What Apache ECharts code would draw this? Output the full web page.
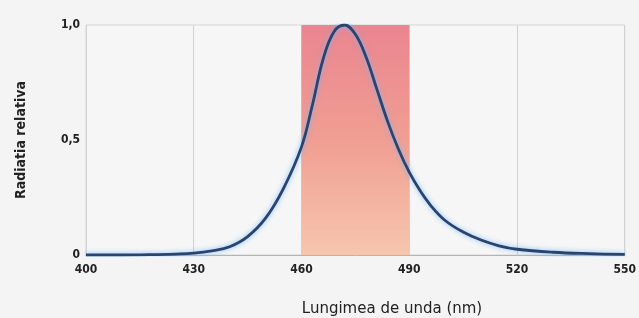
<!DOCTYPE html>
<html>
<head>
<meta charset="utf-8">
<script src="https://cdn.jsdelivr.net/npm/echarts@6/dist/echarts.min.js"></script>
<style>
    html, body { margin: 0; padding: 0; background: #f4f4f4; }
    #main { width: 639px; height: 318px; }
</style>
</head>
<body>
<div id="main"></div>
<script>
// wavelength (nm) and relative radiance
var wavelengths = [400, 410, 420, 425, 430, 435, 440, 445, 450, 455, 460, 463, 466, 469, 472,
    475, 478, 481, 484, 487, 490, 493, 496, 500, 505, 510, 515, 520, 530, 540, 550];
var radiance = [0, 0, 0.002, 0.004, 0.008, 0.018, 0.036, 0.08, 0.16, 0.29, 0.47, 0.65, 0.85, 0.97, 1.0,
    0.96, 0.86, 0.72, 0.58, 0.46, 0.36, 0.28, 0.215, 0.15, 0.10, 0.065, 0.04, 0.025, 0.012, 0.006, 0.003];
var bandRange = [460, 490];
var yTickLabels = { '0': '0', '0.5': '0,5', '1': '1,0' };

var seriesData = [];
for (var i = 0; i < wavelengths.length; i++) {
    seriesData.push([wavelengths[i], radiance[i]]);
}

var myChart = echarts.init(document.getElementById('main'));
var condensed = "'DejaVu Sans Condensed', 'Liberation Sans Narrow', sans-serif";

var option = {
    backgroundColor: '#f4f4f4',
    animation: false,
    title: [{
        text: 'Lungimea de unda (nm)',
        left: 387,
        top: 297,
        textAlign: 'center',
        textStyle: { fontFamily: "'DejaVu Sans', sans-serif", fontSize: 15, fontWeight: 'normal', color: '#222' }
    }],
    grid: {
        left: 86,
        right: 11,
        top: 25,
        bottom: 63,
        show: true,
        backgroundColor: '#f6f6f6',
        borderColor: '#d6d6d6',
        borderWidth: 1
    },
    xAxis: {
        type: 'value',
        min: 400,
        max: 550,
        interval: 30,
        axisLine: { lineStyle: { color: '#b4b4b4', width: 1 } },
        axisTick: { show: false },
        axisLabel: {
            color: '#222',
            fontFamily: condensed,
            fontWeight: 'bold',
            fontSize: 12,
            margin: 9
        },
        splitLine: { show: true, lineStyle: { color: '#d2d2d2', width: 1 } }
    },
    yAxis: {
        type: 'value',
        min: 0,
        max: 1,
        interval: 0.5,
        name: 'Radiatia relativa',
        nameLocation: 'middle',
        nameGap: 58,
        nameTextStyle: { color: '#222', fontFamily: condensed, fontWeight: 'bold', fontSize: 14 },
        axisLine: { show: false },
        axisTick: { show: false },
        axisLabel: {
            color: '#222',
            fontFamily: condensed,
            fontWeight: 'bold',
            fontSize: 12,
            margin: 6,
            formatter: function (v) { return yTickLabels[String(v)]; }
        },
        splitLine: { show: false }
    },
    series: [{
        type: 'line',
        data: [],
        z: 1,
        markArea: {
            silent: true,
            itemStyle: {
                color: {
                    type: 'linear', x: 0, y: 0, x2: 0, y2: 1,
                    colorStops: [
                        { offset: 0, color: '#ea8590' },
                        { offset: 0.5, color: '#f09e92' },
                        { offset: 1, color: '#f6c6ae' }
                    ]
                }
            },
            data: [[{ xAxis: bandRange[0] }, { xAxis: bandRange[1] }]]
        }
    }, {
        type: 'line',
        data: seriesData,
        z: 3,
        smooth: 0.4,
        showSymbol: false,
        lineStyle: {
            color: '#2b436f',
            width: 2.8,
            shadowColor: 'rgba(110,185,255,0.9)',
            shadowBlur: 5
        }
    }]
};
option && myChart.setOption(option);
</script>
</body>
</html>
